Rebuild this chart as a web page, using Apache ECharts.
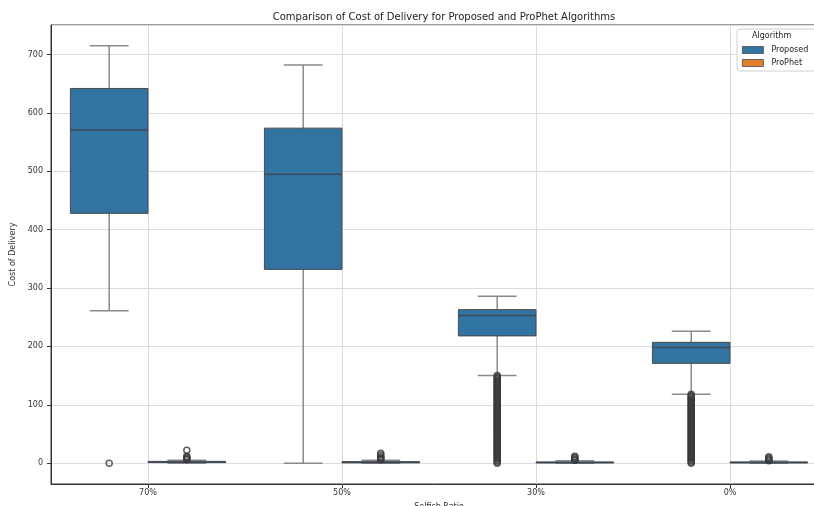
<!DOCTYPE html>
<html>
<head>
<meta charset="utf-8">
<script src="https://cdn.jsdelivr.net/npm/echarts@6/dist/echarts.min.js"></script>
<style>
    html, body { margin: 0; padding: 0; background: #fff; }
    #chart { width: 814px; height: 506px; }
</style>
</head>
<body>
<div id="chart"></div>
<script>
// selfish ratio groups on the x axis
const categories = ['70%', '50%', '30%', '0%'];
const seriesNames = ['Proposed', 'ProPhet'];

// box stats per category: [whisker low, Q1, median, Q3, whisker high]
const proposedStats = [
    [261, 428, 571, 642, 715],
    [0, 332, 495, 574, 682],
    [150, 218, 253, 263, 286],
    [118, 171, 198, 207, 226]
];
const prophetStats = [
    [0, 1, 2, 3, 5],
    [0, 0.5, 1.5, 2.5, 5],
    [0, 0.5, 1, 2, 4],
    [0, 0.5, 1, 2, 3.5]
];

// fliers, one list per category (the dense columns are read as a solid run of circles)
const proposedOutliers = [
    [0],
    [],
    [150, 148, 146, 144, 142, 140, 138, 136, 134, 132, 130, 128, 126, 124, 122, 120, 118, 116, 114,
     112, 110, 108, 106, 104, 102, 100, 98, 96, 94, 92, 90, 88, 86, 84, 82, 80, 78, 76, 74, 72, 70,
     68, 66, 64, 62, 60, 58, 56, 54, 52, 50, 48, 46, 44, 42, 40, 38, 36, 34, 32, 30, 28, 26, 24, 22,
     20, 18, 16, 14, 12, 10, 8, 6, 4, 2, 0],
    [118, 116, 114, 112, 110, 108, 106, 104, 102, 100, 98, 96, 94, 92, 90, 88, 86, 84, 82, 80, 78,
     76, 74, 72, 70, 68, 66, 64, 62, 60, 58, 56, 54, 52, 50, 48, 46, 44, 42, 40, 38, 36, 34, 32, 30,
     28, 26, 24, 22, 20, 18, 16, 14, 12, 10, 8, 6, 4, 2, 0]
];
const prophetOutliers = [
    [22, 12, 10, 8, 7, 6],
    [17, 14, 11, 9, 7, 6],
    [12, 10, 8, 6, 5],
    [11, 9, 7, 5, 4]
];

const colors = ['#3274a1', '#e1812c'];
const offsets = [-0.2, 0.2];
const boxWidth = 0.4;

function boxData(stats) {
    return stats.map(function (s, i) { return [i].concat(s); });
}

function outlierData(lists, offset) {
    let out = [];
    lists.forEach(function (vals, i) {
        vals.forEach(function (v) { out.push([i + offset, v]); });
    });
    return out;
}

function renderBox(offset, fill) {
    return function (params, api) {
        const x = api.value(0) + offset;
        const lo = api.coord([x, api.value(1)]);
        const q1 = api.coord([x, api.value(2)]);
        const med = api.coord([x, api.value(3)]);
        const q3 = api.coord([x, api.value(4)]);
        const hi = api.coord([x, api.value(5)]);
        const w = api.size([boxWidth, 0])[0];
        const cx = lo[0];
        const whisker = {stroke: '#8a8a8a', lineWidth: 1.5};
        const edge = '#4a4a4a';
        return {
            type: 'group',
            children: [
                {type: 'line', shape: {x1: cx, y1: hi[1], x2: cx, y2: q3[1]}, style: whisker},
                {type: 'line', shape: {x1: cx, y1: q1[1], x2: cx, y2: lo[1]}, style: whisker},
                {type: 'line', shape: {x1: cx - w / 4, y1: hi[1], x2: cx + w / 4, y2: hi[1]}, style: whisker},
                {type: 'line', shape: {x1: cx - w / 4, y1: lo[1], x2: cx + w / 4, y2: lo[1]}, style: whisker},
                {
                    type: 'rect',
                    shape: {x: cx - w / 2, y: q3[1], width: w, height: q1[1] - q3[1]},
                    style: {fill: fill, stroke: edge, lineWidth: 1}
                },
                {type: 'line', shape: {x1: cx - w / 2, y1: med[1], x2: cx + w / 2, y2: med[1]},
                    style: {stroke: '#3c4a58', lineWidth: 1.5}}
            ]
        };
    };
}

function initChart() {
    let chart = echarts.init(document.getElementById('chart'));
    let textColor = '#333';
    let option = {
        animation: false,
        textStyle: {fontFamily: 'DejaVu Sans'},
        title: {
            text: 'Comparison of Cost of Delivery for Proposed and ProPhet Algorithms',
            left: 439,
            top: 7,
            textAlign: 'center',
            textStyle: {fontSize: 10, fontWeight: 'normal', color: '#222', fontFamily: 'DejaVu Sans'}
        },
        legend: {
            data: seriesNames.map(function (n, i) {
                return {name: n, icon: 'rect', itemStyle: {color: colors[i], borderColor: '#4a4a4a', borderWidth: 0.8}};
            }),
            orient: 'vertical',
            left: 737,
            top: 29,
            padding: [17, 20, 4, 5],
            itemWidth: 21,
            itemHeight: 7,
            itemGap: 5,
            backgroundColor: '#fff',
            borderColor: '#d0d0d0',
            borderWidth: 1,
            borderRadius: 3,
            textStyle: {fontSize: 8, color: '#222', fontFamily: 'DejaVu Sans', padding: [0, 0, 0, 3]}
        },
        graphic: [{
            type: 'text',
            left: 752,
            top: 32,
            z: 100,
            style: {text: 'Algorithm', fontSize: 8, fill: '#222', fontFamily: 'DejaVu Sans'}
        }],
        grid: {
            left: 51, top: 25, width: 776, height: 459,
            outerBoundsMode: 'none',
            show: true, borderColor: '#333', borderWidth: 1
        },
        xAxis: {
            type: 'value',
            min: -0.5,
            max: 3.5,
            splitNumber: 4,
            minInterval: 1,
            maxInterval: 1,
            name: 'Selfish Ratio',
            nameLocation: 'middle',
            nameGap: 19,
            nameTextStyle: {fontSize: 8, color: textColor},
            axisLine: {show: true, onZero: false, lineStyle: {color: '#333'}},
            axisTick: {show: true, length: 4, lineStyle: {color: '#333'}},
            axisLabel: {
                fontSize: 8, color: textColor, margin: 5,
                showMinLabel: false, showMaxLabel: false,
                formatter: function (v) {
                    return Number.isInteger(v) ? (categories[v] || '') : '';
                }
            },
            splitLine: {show: true, lineStyle: {color: '#dcdcdc', width: 1}}
        },
        yAxis: {
            type: 'value',
            min: -35.75,
            max: 750.75,
            splitNumber: 8,
            name: 'Cost of Delivery',
            nameLocation: 'middle',
            nameGap: 33,
            nameTextStyle: {fontSize: 8, color: textColor},
            axisLine: {show: true, onZero: false, lineStyle: {color: '#333'}},
            axisTick: {show: true, length: 4, lineStyle: {color: '#333'}},
            axisLabel: {fontSize: 8, color: textColor, margin: 8, showMinLabel: false, showMaxLabel: false},
            splitLine: {show: true, lineStyle: {color: '#dcdcdc', width: 1}}
        },
        series: [
            {
                name: seriesNames[0],
                type: 'custom',
                renderItem: renderBox(offsets[0], colors[0]),
                encode: {x: 0, y: [1, 2, 3, 4, 5]},
                itemStyle: {color: colors[0]},
                data: boxData(proposedStats),
                z: 2
            },
            {
                name: seriesNames[1],
                type: 'custom',
                renderItem: renderBox(offsets[1], colors[1]),
                encode: {x: 0, y: [1, 2, 3, 4, 5]},
                itemStyle: {color: colors[1]},
                data: boxData(prophetStats),
                z: 2
            },
            {
                name: 'Proposed fliers',
                type: 'scatter',
                symbol: 'circle',
                symbolSize: 6,
                itemStyle: {color: 'rgba(0,0,0,0)', borderColor: '#3a3a3a', borderWidth: 1.5},
                data: outlierData(proposedOutliers, offsets[0]),
                z: 3
            },
            {
                name: 'ProPhet fliers',
                type: 'scatter',
                symbol: 'circle',
                symbolSize: 6,
                itemStyle: {color: 'rgba(0,0,0,0)', borderColor: '#3a3a3a', borderWidth: 1.5},
                data: outlierData(prophetOutliers, offsets[1]),
                z: 3
            }
        ]
    };
    chart.setOption(option);
}

initChart();
</script>
</body>
</html>
